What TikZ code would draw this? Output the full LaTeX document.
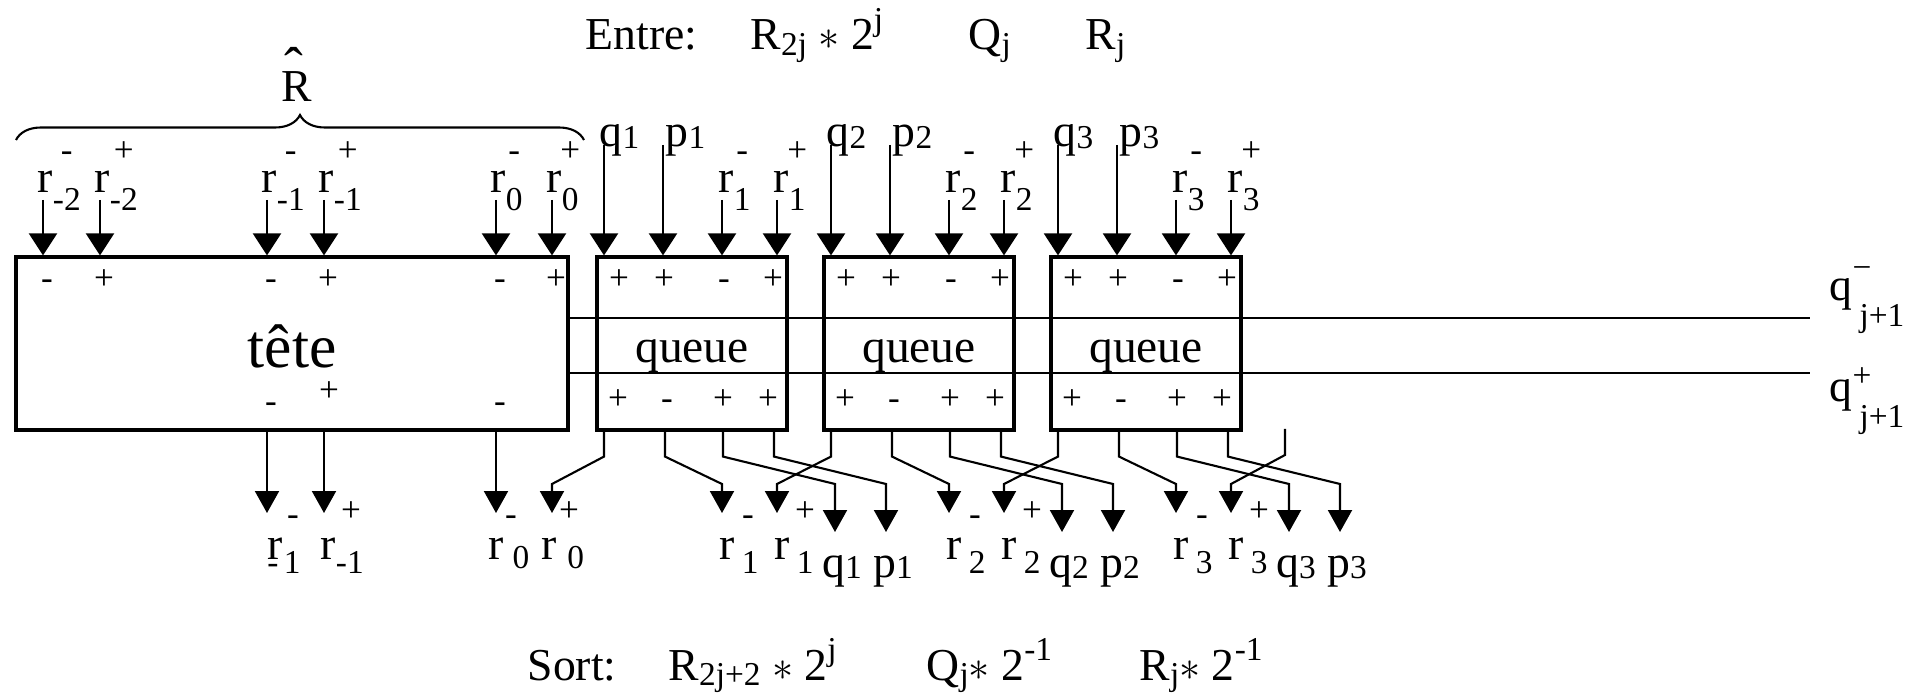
\documentclass[tikz,border=0pt]{standalone}
\usepackage{fontspec}
\setmainfont{Liberation Serif}
\usetikzlibrary{arrows.meta, positioning, decorations.pathreplacing}

\newcommand{\bigsz}{\fontsize{13}{15}\selectfont}
\newcommand{\subsz}{\fontsize{9.5}{11}\selectfont}
\newcommand{\sgnsz}{\fontsize{10}{12}\selectfont}
% r with its index, and a sign stacked high over the index
\newcommand{\rsig}[2]{r\raisebox{-5pt}{\subsz\ooalign{#1\cr\hidewidth\raisebox{14pt}{\sgnsz#2}\hidewidth\cr}}}
% r with a lowered index: [gap]{index}{drop}
\newcommand{\rlow}[3][2pt]{r\hspace{#1}\raisebox{-#3}{\subsz #2}}
\newcommand{\idx}[1]{\raisebox{-0.5pt}{\subsz #1}}
\newcommand{\up}[1]{\raisebox{5.5pt}{\subsz #1}}
\newcommand{\dn}[1]{\raisebox{-1.5pt}{\subsz #1}}

\tikzset{
  box/.style={draw, line width=0.9pt, inner sep=0pt, minimum height=1.73cm},
  wire/.style={line width=0.6pt},
  bus/.style={line width=0.8pt},
  arrin/.style={wire, -{Triangle[length=0.22cm, width=0.28cm]}},
  arrout/.style={wire, -{Triangle[length=0.22cm, width=0.24cm]}},
  txt/.style={inner sep=0pt, font=\bigsz},
  sgn/.style={inner sep=0pt, anchor=base, font=\sgnsz},
}

\begin{document}
\begin{tikzpicture}[x=1cm, y=-1cm]
  \useasboundingbox (0,0) rectangle (19.10,6.93);

  % inputs / outputs of the step
  \node[txt, anchor=base west] (entre) at (5.85,0.50) {Entre:};
  \node[txt, anchor=base west] (entreR) at (7.50,0.50) {R\dn{2j} $\ast$ 2\up{j}};
  \node[txt, anchor=base west] (entreQ) at (9.68,0.50) {Q\dn{j}};
  \node[txt, anchor=base west] (entreRj) at (10.85,0.50) {R\dn{j}};
  \node[txt, anchor=base west] (sort) at (5.27,6.80) {Sort:};
  \node[txt, anchor=base west] (sortR) at (6.68,6.80) {R\dn{2j+2} $\ast$ 2\up{j}};
  \node[txt, anchor=base west] (sortQ) at (9.26,6.80) {Q\dn{j}$\ast$ 2\up{-1}};
  \node[txt, anchor=base west] (sortRj) at (11.39,6.80) {R\dn{j}$\ast$ 2\up{-1}};

  % head block
  \node[box, minimum width=5.52cm] (tete) at (2.92,3.435) {};
  \node[txt, anchor=base, font=\fontsize{17.5}{20}\selectfont] (teteTxt) at (2.92,3.68) {tête};

  % brace over the head digits
  \coordinate (brL) at (0.16,1.40);
  \coordinate (brR) at (5.84,1.40);
  \draw[wire, decorate, decoration={brace, amplitude=0.25cm}] (brL) -- (brR);
  \node[txt, anchor=base] (Rhat) at (2.97,1.02) {R};
  \node[txt, anchor=base, font=\fontsize{16}{18}\selectfont] (hat) at (2.94,0.87) {ˆ};

  % head inputs
  \foreach \i/\x/\s/\g in {1/0.43/-2/-, 2/1.00/-2/+, 3/2.67/-1/-, 4/3.24/-1/+, 5/4.96/0/-, 6/5.52/0/+} {
    \node[txt, anchor=base west] (rin\i) at ({\x-0.06},1.93) {\rsig{\s}{\g}};
    \coordinate (tin\i) at (\x,2.00);
    \draw[arrin] (tin\i) -- (tete.north -| tin\i);
    \node[sgn] (ts\i) at ({\x+0.04},2.90) {\g};
  }

  % head outputs
  \foreach \i/\x in {1/2.67, 2/3.24, 3/4.96} {
    \coordinate (tout\i) at (\x,5.13);
    \draw[arrout] (tete.south -| tout\i) -- (tout\i);
  }
  \node[sgn] (tb1) at (2.71,4.13) {-};
  \node[sgn] (tb2) at (3.29,4.02) {+};
  \node[sgn] (tb3) at (5.00,4.13) {-};

  \node[sgn] (to1s) at (2.93,5.25) {-};
  \node[txt, anchor=base west] (to1) at (2.67,5.59) {r\hspace{-4.4pt}\raisebox{-4pt}{\subsz -\hspace{1.5pt}1}};
  \node[sgn] (to2s) at (3.51,5.21) {+};
  \node[txt, anchor=base west] (to2) at (3.20,5.59) {r\raisebox{-4pt}{\subsz -1}};
  \node[sgn] (to3s) at (5.11,5.25) {-};
  \node[txt, anchor=base west] (to3) at (4.88,5.59) {\rlow[2.5pt]{0}{2.6pt}};
  \node[sgn] (to4s) at (5.69,5.21) {+};
  \node[txt, anchor=base west] (to4) at (5.41,5.59) {\rlow[3pt]{0}{2.6pt}};

  \coordinate (rp0) at (5.52,5.13);

  % tail blocks
  \foreach \k/\L/\p in {1/5.97/0, 2/8.24/1, 3/10.51/2} {
    \node[box, minimum width=1.9cm] (queue\k) at ({\L+0.95},3.435) {};
    \node[txt, anchor=base, font=\fontsize{13.5}{16}\selectfont] (queueTxt\k) at ({\L+0.95},3.63) {queue};
    % inputs
    \coordinate (qin\k) at ({\L+0.07},1.45);
    \coordinate (pin\k) at ({\L+0.66},1.45);
    \coordinate (rmin\k) at ({\L+1.25},2.00);
    \coordinate (rpin\k) at ({\L+1.80},2.00);
    \node[txt, anchor=base west] (qlab\k) at ({\L+0.02},1.47) {q\idx{\k}};
    \node[txt, anchor=base west] (plab\k) at ({\L+0.68},1.47) {p\idx{\k}};
    \node[txt, anchor=base west] (rmlab\k) at ({\L+1.21},1.93) {\rsig{\k}{-}};
    \node[txt, anchor=base west] (rplab\k) at ({\L+1.76},1.93) {\rsig{\k}{+}};
    \foreach \c in {qin, pin, rmin, rpin}
      \draw[arrin] (\c\k) -- (queue\k.north -| \c\k);
    % signs
    \foreach \dx/\g [count=\j] in {0.22/+, 0.67/+, 1.27/-, 1.76/+}
      \node[sgn] (qs\k\j) at ({\L+\dx},2.90) {\g};
    \foreach \dx/\g [count=\j] in {0.21/+, 0.70/-, 1.26/+, 1.71/+}
      \node[sgn] (qb\k\j) at ({\L+\dx},4.10) {\g};
    % outputs, first one goes back to the previous block
    \coordinate (rm\k) at ({\L+1.25},5.13);
    \coordinate (rp\k) at ({\L+1.80},5.13);
    \coordinate (qo\k) at ({\L+2.38},5.32);
    \coordinate (po\k) at ({\L+2.89},5.32);
    \foreach \dx/\t in {0.07/rp\p, 0.68/rm\k, 1.26/qo\k, 1.77/po\k}
      \draw[arrout] (queue\k.south -| {\L+\dx},0) -- ++(0,0.25) -- (\t |- 0,4.84) -- (\t);
    \node[sgn] (rms\k) at ({\L+1.51},5.25) {-};
    \node[sgn] (rps\k) at ({\L+2.08},5.21) {+};
    \node[txt, anchor=base west] (rmo\k) at ({\L+1.22},5.59) {\rlow{\k}{4pt}};
    \node[txt, anchor=base west] (rpo\k) at ({\L+1.77},5.59) {\rlow{\k}{4pt}};
    \node[txt, anchor=base] (qol\k) at ({\L+2.45},5.77) {q\idx{\k}};
    \node[txt, anchor=base] (pol\k) at ({\L+2.96},5.77) {p\idx{\k}};
  }

  % wire coming from the next block
  \coordinate (stub) at (12.85,4.29);
  \draw[arrout] (stub) -- ++(0,0.26) -- (rp3 |- 0,4.84) -- (rp3);

  % quotient lines
  \coordinate (qmEnd) at (18.10,3.18);
  \coordinate (qpEnd) at (18.10,3.73);
  \draw[bus] (tete.east |- qmEnd) -- (qmEnd);
  \draw[bus] (tete.east |- qpEnd) -- (qpEnd);
  \node[txt, anchor=base west] (qm) at (18.29,3.01) {q\rlap{\raisebox{6.3pt}{\subsz −}}\raisebox{-7.2pt}{\hspace{2pt}\subsz j+1}};
  \node[txt, anchor=base west] (qp) at (18.29,4.02) {q\rlap{\raisebox{4.5pt}{\subsz +}}\raisebox{-7.2pt}{\hspace{2pt}\subsz j+1}};
\end{tikzpicture}
\end{document}
